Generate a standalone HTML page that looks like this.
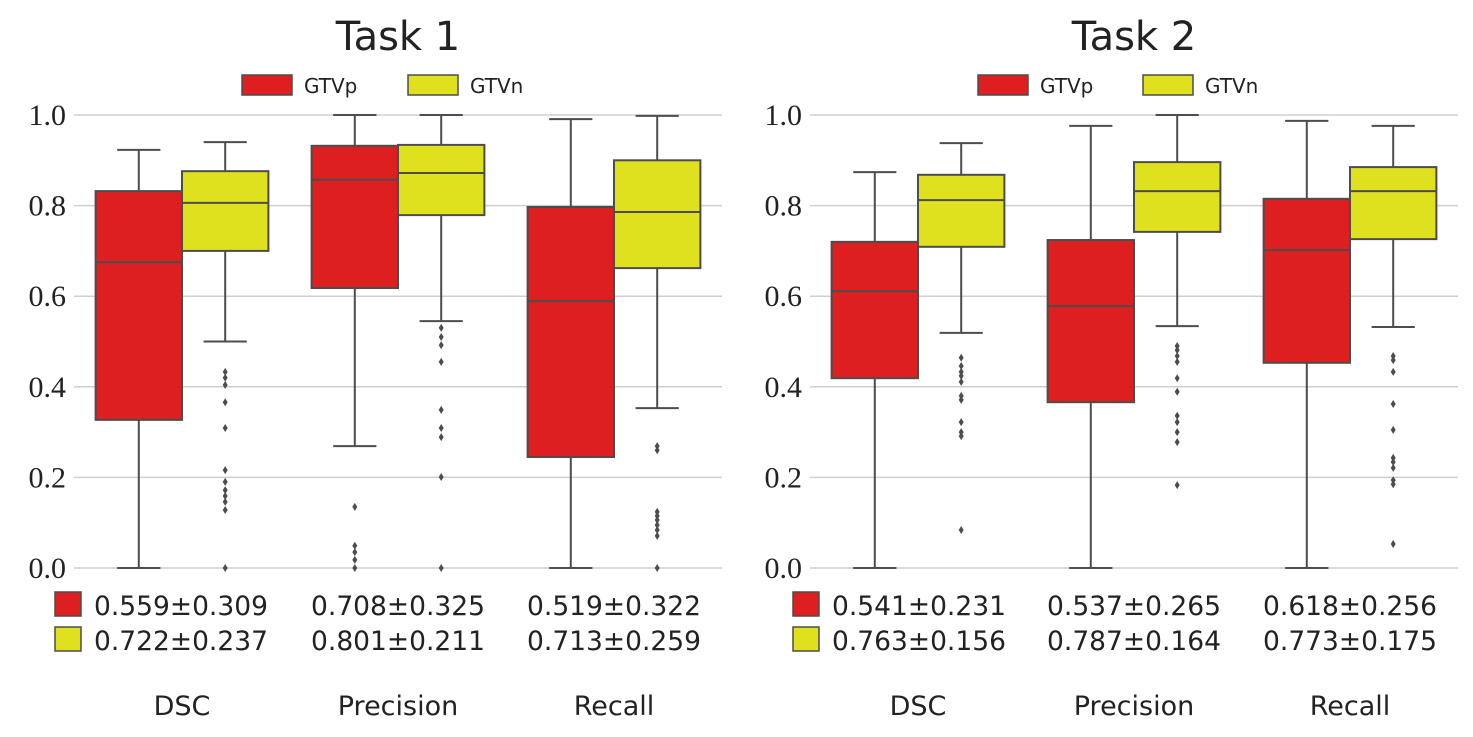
<!DOCTYPE html>
<html><head><meta charset="utf-8"><style>
body{margin:0;background:#fff}
svg{display:block}
</style></head><body>
<svg id="chart" width="1473" height="737" xmlns="http://www.w3.org/2000/svg"></svg>
<script>
const categories = ["DSC","Precision","Recall"];
const seriesNames = ["GTVp","GTVn"];
const yTicks = [0,0.2,0.4,0.6,0.8,1.0];
const yTickLabels = ["0.0","0.2","0.4","0.6","0.8","1.0"];
// each box: [whiskerLow, q1, median, q3, whiskerHigh]
const task1GTVp = [[0,0.327,0.675,0.832,0.923],[0.269,0.618,0.857,0.932,1.0],[0,0.245,0.589,0.797,0.991]];
const task1GTVn = [[0.50,0.70,0.806,0.876,0.94],[0.545,0.779,0.872,0.934,1.0],[0.353,0.662,0.786,0.90,0.998]];
const task2GTVp = [[0,0.419,0.611,0.72,0.874],[0,0.366,0.578,0.724,0.976],[0,0.453,0.702,0.815,0.987]];
const task2GTVn = [[0.519,0.709,0.812,0.868,0.938],[0.534,0.742,0.832,0.896,1.0],[0.532,0.726,0.832,0.885,0.976]];
const task1GTVpFliers = [[],[0.135,0.049,0.035,0.018,0],[]];
const task1GTVnFliers = [[0.433,0.42,0.404,0.366,0.309,0.216,0.19,0.172,0.159,0.146,0.128,0],[0.53,0.51,0.492,0.455,0.349,0.309,0.289,0.201,0],[0.269,0.26,0.124,0.115,0.106,0.095,0.084,0.071,0]];
const task2GTVpFliers = [[],[],[]];
const task2GTVnFliers = [[0.464,0.446,0.433,0.424,0.411,0.38,0.371,0.322,0.3,0.291,0.084],[0.49,0.481,0.468,0.455,0.419,0.389,0.336,0.322,0.3,0.278,0.183],[0.468,0.459,0.433,0.362,0.305,0.243,0.234,0.221,0.194,0.185,0.053]];
const task1StatsGTVp = ["0.559±0.309","0.708±0.325","0.519±0.322"];
const task1StatsGTVn = ["0.722±0.237","0.801±0.211","0.713±0.259"];
const task2StatsGTVp = ["0.541±0.231","0.537±0.265","0.618±0.256"];
const task2StatsGTVn = ["0.763±0.156","0.787±0.164","0.773±0.175"];
const titles = ["Task 1","Task 2"];

const NS="http://www.w3.org/2000/svg";
const svg=document.getElementById('chart');
const COLORS=["#de1f1f","#dfe01e"], EDGE="#4d4d4d";
function mk(tag,attrs,parent){const e=document.createElementNS(NS,tag);for(const k in attrs)e.setAttribute(k,attrs[k]);(parent||svg).appendChild(e);return e;}
const Y0=568, Y1=115;
function yScale(v){return Y0-(Y0-Y1)*v;}

const panels=[
 {x0:74,x1:722,title:titles[0],p:task1GTVp,n:task1GTVn,pf:task1GTVpFliers,nf:task1GTVnFliers,sp:task1StatsGTVp,sn:task1StatsGTVn,leg:[242,408],sw:55},
 {x0:810,x1:1458,title:titles[1],p:task2GTVp,n:task2GTVn,pf:task2GTVpFliers,nf:task2GTVnFliers,sp:task2StatsGTVp,sn:task2StatsGTVn,leg:[978,1143],sw:793}
];
panels.forEach((P,pi)=>{
  const g=mk('g',{});
  
  
  const step=(P.x1-P.x0)/categories.length;
  const xC=i=>P.x0+step*(i+0.5);
  yTicks.forEach((t,i)=>{
    const l=mk('line',{x1:P.x0,x2:P.x1,y1:yScale(t),y2:yScale(t),stroke:"#cfcfcf","stroke-width":1.5},g);
    
    
    const tx=mk('text',{x:P.x0-8,y:yScale(t)+10,"text-anchor":"end","font-family":"Liberation Serif, serif","font-size":30,fill:"#222"},g);
    
    
    tx.textContent=yTickLabels[i];
  });
  const title=mk('text',{x:(P.x0+P.x1)/2,y:50,"text-anchor":"middle","font-family":"DejaVu Sans, sans-serif","font-size":40,fill:"#222"},g);
  
  
  title.textContent=P.title;
  seriesNames.forEach((s,si)=>{
    const r=mk('rect',{x:P.leg[si],y:75,width:50,height:20,fill:COLORS[si],stroke:EDGE,"stroke-width":1.5},g);
    
    
    const t=mk('text',{x:P.leg[si]+62,y:93,"font-family":"DejaVu Sans, sans-serif","font-size":20,fill:"#222"},g);
    
    
    t.textContent=s;
  });
  const bw=step*0.8/2;
  [[P.p,P.pf],[P.n,P.nf]].forEach(([data,fl],si)=>{
    data.forEach((b,ci)=>{
      const left=xC(ci)-step*0.4+si*bw, cx=left+bw/2;
      const bg=mk('g',{},g);
      
      
      const cap=bw*0.25;
      mk('line',{x1:cx,x2:cx,y1:yScale(b[0]),y2:yScale(b[1]),stroke:EDGE,"stroke-width":2},bg);
      mk('line',{x1:cx,x2:cx,y1:yScale(b[3]),y2:yScale(b[4]),stroke:EDGE,"stroke-width":2},bg);
      mk('line',{x1:cx-cap,x2:cx+cap,y1:yScale(b[0]),y2:yScale(b[0]),stroke:EDGE,"stroke-width":2},bg);
      mk('line',{x1:cx-cap,x2:cx+cap,y1:yScale(b[4]),y2:yScale(b[4]),stroke:EDGE,"stroke-width":2},bg);
      mk('rect',{x:left,y:yScale(b[3]),width:bw,height:yScale(b[1])-yScale(b[3]),fill:COLORS[si],stroke:EDGE,"stroke-width":2},bg);
      mk('line',{x1:left,x2:left+bw,y1:yScale(b[2]),y2:yScale(b[2]),stroke:EDGE,"stroke-width":2},bg);
      fl[ci].forEach(v=>{
        const y=yScale(v);
        const d=mk('path',{d:`M${cx},${y-4} L${cx+2.5},${y} L${cx},${y+4} L${cx-2.5},${y} Z`,fill:EDGE},bg);
        
        
      });
    });
  });
  [P.sp,P.sn].forEach((row,si)=>{
    const r=mk('rect',{x:P.sw,y:592+si*35,width:26,height:24,fill:COLORS[si],stroke:EDGE,"stroke-width":1.5},g);
    
    
    row.forEach((s,ci)=>{
      const t=mk('text',{x:xC(ci),y:615+si*35,"text-anchor":"middle","font-family":"DejaVu Sans, sans-serif","font-size":26.5,fill:"#222"},g);
      if(ci===0){t.setAttribute('x',P.sw+39);t.setAttribute('text-anchor','start');}
      
      
      t.textContent=s;
    });
  });
  categories.forEach((c,ci)=>{
    const t=mk('text',{x:xC(ci),y:715,"text-anchor":"middle","font-family":"DejaVu Sans, sans-serif","font-size":27,fill:"#222"},g);
    
    
    t.textContent=c;
  });
});
</script>
</body></html>
